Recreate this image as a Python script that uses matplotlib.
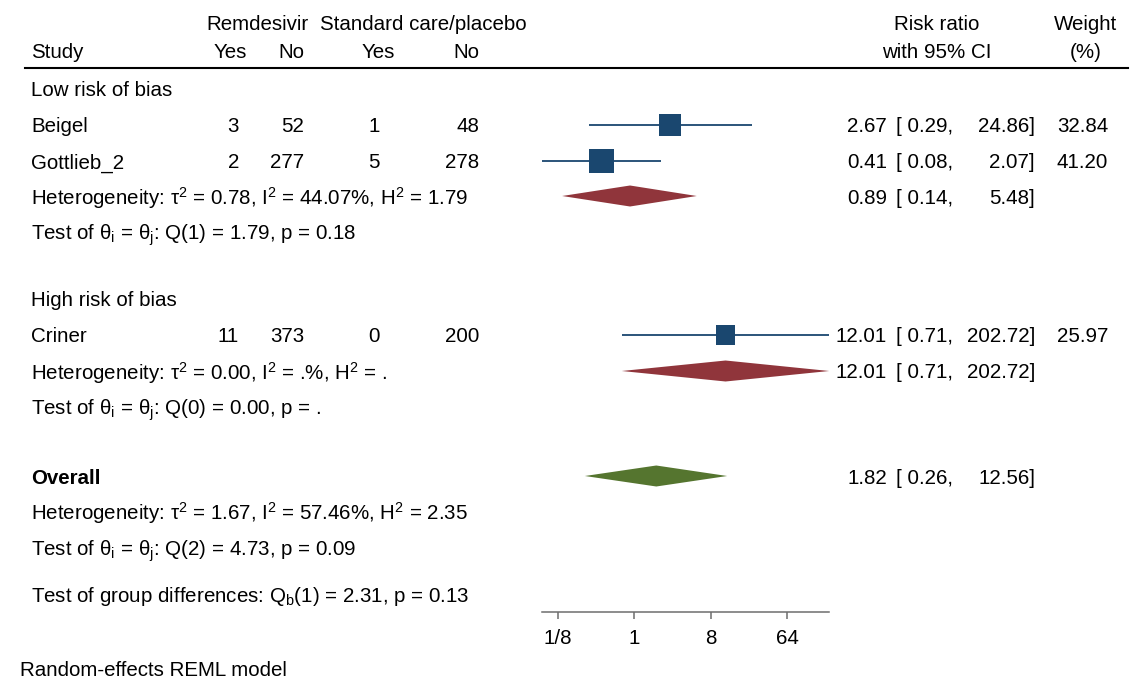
import numpy as np
import matplotlib
matplotlib.use("Agg")
import matplotlib.pyplot as plt
from matplotlib.lines import Line2D

plt.rcParams["font.family"] = ["Liberation Sans", "DejaVu Sans"]
plt.rcParams["mathtext.fontset"] = "custom"
plt.rcParams["mathtext.rm"] = "Liberation Sans"
plt.rcParams["mathtext.it"] = "Liberation Sans:italic"
plt.rcParams["mathtext.bf"] = "Liberation Sans:bold"

# study level data
studies = ["Beigel", "Gottlieb_2", "Criner"]
rem_yes = [3, 2, 11]
rem_no = [52, 277, 373]
ctl_yes = [1, 5, 0]
ctl_no = [48, 278, 200]
rr = [2.67, 0.41, 12.01]
rr_lo = [0.29, 0.08, 0.71]
rr_hi = [24.86, 2.07, 202.72]
weight = [32.84, 41.20, 25.97]

# subgroup and overall pooled estimates
groups = ["Low risk of bias", "High risk of bias"]
sub_rr = [0.89, 12.01]
sub_lo = [0.14, 0.71]
sub_hi = [5.48, 202.72]
all_rr, all_lo, all_hi = 1.82, 0.26, 12.56

het_txt = [r"Heterogeneity: τ$^2$ = 0.78, I$^2$ = 44.07%, H$^2$ = 1.79",
           r"Heterogeneity: τ$^2$ = 0.00, I$^2$ = .%, H$^2$ = .",
           r"Heterogeneity: τ$^2$ = 1.67, I$^2$ = 57.46%, H$^2$ = 2.35"]
q_txt = [r"Test of θ$_\mathrm{i}$ = θ$_\mathrm{j}$: Q(1) = 1.79, p = 0.18",
         r"Test of θ$_\mathrm{i}$ = θ$_\mathrm{j}$: Q(0) = 0.00, p = .",
         r"Test of θ$_\mathrm{i}$ = θ$_\mathrm{j}$: Q(2) = 4.73, p = 0.09"]
grp_txt = r"Test of group differences: Q$_\mathrm{b}$(1) = 2.31, p = 0.13"

navy = "#1a476f"
maroon = "#90353b"
green = "#55752f"

W, H = 1147, 686
FS = 14.8
fig = plt.figure(figsize=(W / 100, H / 100), dpi=100)


def put(x, y, s, ha="left", **kw):
    # text rows sit a couple of pixels below the mark rows
    fig.text(x / W, 1 - (y + 2) / H, s, ha=ha, va="center", fontsize=FS, **kw)


# forest panel: y measured in rows from the top of the figure
x_lo, x_hi = min(rr_lo), max(rr_hi)
px_one, px_unit = 634.3, 25.44
left = px_one + px_unit * np.log2(x_lo)
right = px_one + px_unit * np.log2(x_hi)
ax = fig.add_axes([left / W, (H - 612) / H, (right - left) / W, 612 / H])
ax.set_xscale("log", base=2)
ax.set_xlim(x_lo, x_hi)
ax.set_ylim(612, 0)
ax.patch.set_visible(False)
for s in ["top", "left", "right"]:
    ax.spines[s].set_visible(False)
ax.spines["bottom"].set_color("#6e6e6e")
ax.spines["bottom"].set_linewidth(1.1)
ax.set_yticks([])
ax.set_xticks([1 / 8, 1, 8, 64])
ax.set_xticklabels(["1/8", "1", "8", "64"])
ax.minorticks_off()
ax.tick_params(axis="x", length=5, width=1.1, color="#6e6e6e", pad=7, labelsize=FS)

study_rows = [125, 161, 335]
group_rows = [89, 299]
het_rows = [197, 372, 512]
q_rows = [233, 408, 549]
overall_row = 476

# squares sized by weight, with CI whiskers
ax.hlines(study_rows, rr_lo, rr_hi, color=navy, lw=1.3, clip_on=False, zorder=2)
ax.scatter(rr, study_rows, marker="s", s=7.8 * np.array(weight), color=navy,
           edgecolor="none", clip_on=False, zorder=3)

h = 10.5


def diamond(c, lo, hi, y, col):
    ax.fill([lo, c, hi, c], [y, y - h, y, y + h], color=col, lw=0, clip_on=False, zorder=3)


for i in range(2):
    diamond(sub_rr[i], sub_lo[i], sub_hi[i], het_rows[i] - 1, maroon)
diamond(all_rr, all_lo, all_hi, overall_row, green)

# header
put(206, 22, "Remdesivir")
put(320, 22, "Standard care/placebo")
put(31, 51, "Study")
put(247, 51, "Yes", ha="right")
put(304, 51, "No", ha="right")
put(395, 51, "Yes", ha="right")
put(479, 51, "No", ha="right")
put(937, 22, "Risk ratio", ha="center")
put(937, 51, "with 95% CI", ha="center")
put(1086, 22, "Weight", ha="center")
put(1086, 51, "(%)", ha="center")
fig.add_artist(Line2D([25 / W, 1128 / W], [1 - 68 / H, 1 - 68 / H], color="black", lw=1.5))


def ci_text(y, c, lo, hi):
    put(887, y, f"{c:.2f}", ha="right")
    put(896, y, f"[ {lo:.2f},")
    put(1035, y, f"{hi:.2f}]", ha="right")


for g in range(2):
    put(31, group_rows[g], groups[g])
for i, y in enumerate(study_rows):
    put(31, y, studies[i])
    put(239, y, str(rem_yes[i]), ha="right")
    put(304, y, str(rem_no[i]), ha="right")
    put(380, y, str(ctl_yes[i]), ha="right")
    put(479, y, str(ctl_no[i]), ha="right")
    ci_text(y, rr[i], rr_lo[i], rr_hi[i])
    put(1108, y, f"{weight[i]:.2f}", ha="right")
for i in range(3):
    put(31, het_rows[i] - 1, het_txt[i])
    put(31, q_rows[i], q_txt[i])
for g in range(2):
    ci_text(het_rows[g] - 1, sub_rr[g], sub_lo[g], sub_hi[g])
put(31, overall_row, "Overall", fontweight="bold")
ci_text(overall_row, all_rr, all_lo, all_hi)
put(31, 594, grp_txt)
put(20, 669, "Random-effects REML model")

fig.savefig("out.png", dpi=100)
